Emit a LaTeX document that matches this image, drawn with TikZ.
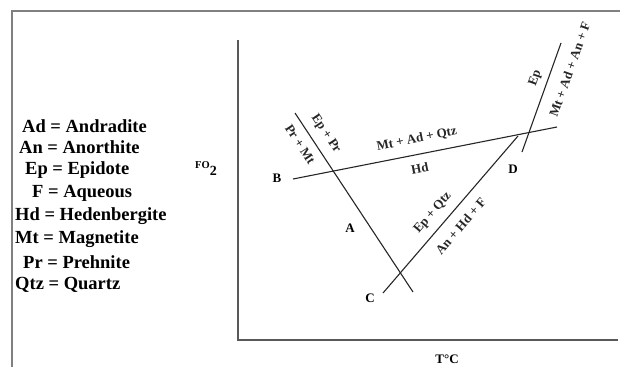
\documentclass[tikz,border=0pt]{standalone}
\usepackage{fontspec}
\setmainfont{Liberation Serif}
\usetikzlibrary{positioning}

\begin{document}
\begin{tikzpicture}[
x=1pt, y=-1pt,
key/.style={anchor=base west, inner sep=0pt, font=\fontsize{18.5}{20}\selectfont\bfseries},
lbl/.style={inner sep=1pt, font=\fontsize{13}{15}\selectfont\bfseries},
phase/.style={lbl, sloped},
reaction/.style={line width=1.1pt, black!85},
axis/.style={line width=1.6pt, black!65},
frame/.style={line width=1.2pt, black!50}
]
\useasboundingbox (0,0) rectangle (620,367);

% frame and axes
\coordinate (fbl) at (12,367);
\coordinate (ftl) at (12,11);
\coordinate (ftr) at (620,11);
\draw[frame] (fbl) -- (ftl) -- (ftr);
\coordinate (ytop) at (238,40);
\coordinate (orig) at (238,340);
\coordinate (xend) at (618,340);
\draw[axis] (ytop) -- (orig) -- (xend);
\node[anchor=base west, inner sep=0pt, font=\fontsize{10.5}{12}\selectfont\bfseries] (fo) at (195,168) {FO\raisebox{-7pt}{\fontsize{14}{14}\selectfont 2}};
\node[lbl, anchor=base, inner sep=0pt] (temp) at (447,363) {T\textdegree C};

% legend
\node[key] (ad) at (22,132.5) {Ad = Andradite};
\node[key] (an) at (19,153.5) {An = Anorthite};
\node[key] (ep) at (25,174.5) {Ep = Epidote};
\node[key] (aq) at (32,197.5) {F = Aqueous};
\node[key] (hd) at (15,220.5) {Hd = Hedenbergite};
\node[key] (mt) at (15,243.5) {Mt = Magnetite};
\node[key] (pr) at (23,268.5) {Pr = Prehnite};
\node[key] (qtz) at (15,289.5) {Qtz = Quartz};

% reaction lines
\coordinate (a1) at (295,113);
\coordinate (a2) at (413,292);
\coordinate (b1) at (293,179);
\coordinate (b2) at (557,127);
\coordinate (c1) at (383,293);
\coordinate (c2) at (518,136);
\coordinate (d1) at (522,152);
\coordinate (d2) at (561,43);

\draw[reaction] (a1) -- (a2)
  node[phase, pos=0.16, above=7pt] {Ep + Pr}
  node[phase, pos=0.135, below=7pt] {Pr + Mt};
\draw[reaction] (b1) -- (b2)
  node[phase, pos=0.48, above=8pt] {Mt + Ad + Qtz}
  node[phase, pos=0.47, below=8pt] {Hd};
\draw[reaction] (c1) -- (c2)
  node[phase, pos=0.45, above=7pt] {Ep + Qtz}
  node[phase, pos=0.49, below=9pt] {An + Hd + F};
\draw[reaction] (d1) -- (d2)
  node[phase, pos=0.64, above=5pt] {Ep}
  node[phase, pos=0.81, below=11pt] {Mt + Ad + An + F};

% point labels
\node[lbl] (ptA) at (350,228) {A};
\node[lbl] (ptB) at (277,178) {B};
\node[lbl] (ptC) at (370,298) {C};
\node[lbl] (ptD) at (513,169) {D};
\end{tikzpicture}
\end{document}
